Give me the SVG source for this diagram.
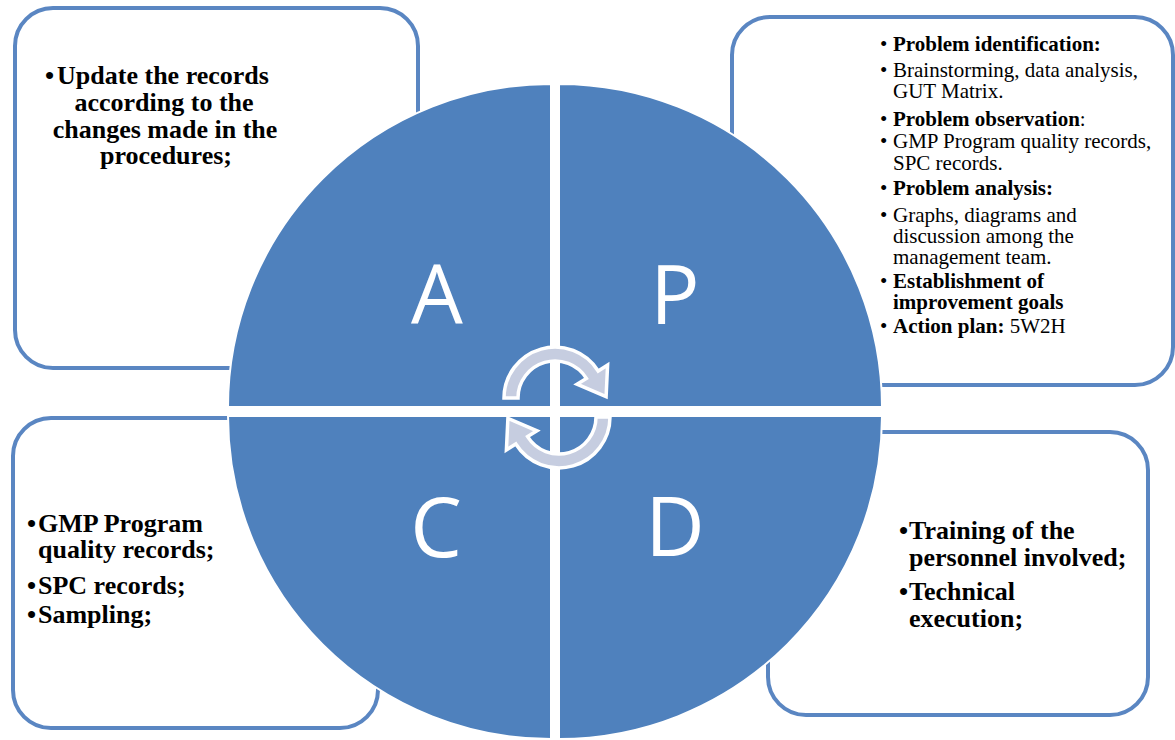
<svg xmlns="http://www.w3.org/2000/svg" width="1175" height="740" viewBox="0 0 1175 740">
<style>
.box{fill:#fff;stroke:#5a86c2;stroke-width:4}
.q{fill:#4f81bd;stroke:#fff;stroke-width:2}
.big{font-family:"Liberation Serif",serif;font-weight:bold;font-size:26px;fill:#000}
.sm{font-family:"Liberation Serif",serif;font-size:21px;fill:#000}
.b{font-weight:bold}
.let{font-family:"Open Sans",sans-serif;font-size:82px;fill:#fff;text-anchor:middle}
.arr{fill:#c6cde0;stroke:#fff;stroke-width:3.5;stroke-linejoin:miter}
</style>
<rect width="1175" height="740" fill="#fff"/>
<g id="box-act">
<rect class="box" x="15" y="8" width="403" height="360" rx="38"/>
<text class="big" x="45" y="84">•</text>
<text class="big" text-anchor="middle"><tspan x="163" y="84">Update the records</tspan><tspan x="164" y="111">according to the</tspan><tspan x="165" y="138">changes made in the</tspan><tspan x="166" y="164">procedures;</tspan></text>
</g>
<g id="box-plan">
<rect class="box" x="732" y="17" width="441" height="368" rx="38"/>
<g class="sm">
<text x="880" y="51">•</text><text x="893" y="51" class="b">Problem identification:</text>
<text x="880" y="77">•</text><text x="893" y="77">Brainstorming, data analysis,</text>
<text x="893" y="98">GUT Matrix.</text>
<text x="880" y="126">•</text><text x="893" y="126"><tspan class="b">Problem observation</tspan>:</text>
<text x="880" y="148">•</text><text x="893" y="148">GMP Program quality records,</text>
<text x="893" y="170">SPC records.</text>
<text x="880" y="195">•</text><text x="893" y="195" class="b">Problem analysis:</text>
<text x="880" y="222">•</text><text x="893" y="222">Graphs, diagrams and</text>
<text x="893" y="243">discussion among the</text>
<text x="893" y="264">management team.</text>
<text x="880" y="288">•</text><text x="893" y="288" class="b">Establishment of</text>
<text x="893" y="309" class="b">improvement goals</text>
<text x="880" y="333">•</text><text x="893" y="333"><tspan class="b">Action plan:</tspan> 5W2H</text>
</g>
</g>
<g id="box-check">
<rect class="box" x="13" y="418" width="365" height="310" rx="38"/>
<g class="big">
<text x="27" y="532">•</text><text x="38" y="532">GMP Program</text>
<text x="38" y="558">quality records;</text>
<text x="27" y="594">•</text><text x="38" y="594">SPC records;</text>
<text x="27" y="623">•</text><text x="38" y="623">Sampling;</text>
</g>
</g>
<g id="box-do">
<rect class="box" x="768" y="432" width="380" height="283" rx="38"/>
<g class="big">
<text x="899" y="539">•</text><text x="909" y="539">Training of the</text>
<text x="909" y="566">personnel involved;</text>
<text x="899" y="600">•</text><text x="909" y="600">Technical</text>
<text x="909" y="627">execution;</text>
</g>
</g>
<g id="quadrant-A">
<path class="q" d="M551,407 L228,407 A323,323 0 0 1 551,84 Z"/>
<text class="let" x="437" y="324">A</text>
</g>
<g id="quadrant-P">
<path class="q" d="M559,407 L559,84 A323,323 0 0 1 882,407 Z"/>
<text class="let" x="675" y="324">P</text>
</g>
<g id="quadrant-D">
<path class="q" d="M559,416 L882,416 A323,323 0 0 1 559,739 Z"/>
<text class="let" x="675" y="556">D</text>
</g>
<g id="quadrant-C">
<path class="q" d="M551,416 L551,739 A323,323 0 0 1 228,416 Z"/>
<text class="let" x="436" y="557">C</text>
</g>
<g id="connectors">
<path id="arrow-top" class="arr" d="M504,398 A51,51 0 0 1 598.2,371 L607.6,365.1 L606.1,396.7 L577,384.2 L586.4,378.4 A37,37 0 0 0 518,398 Z"/>
<path id="arrow-bottom" class="arr" transform="rotate(180 557 407.5)" d="M504,398 A51,51 0 0 1 598.2,371 L607.6,365.1 L606.1,396.7 L577,384.2 L586.4,378.4 A37,37 0 0 0 518,398 Z"/>
</g>
</svg>
